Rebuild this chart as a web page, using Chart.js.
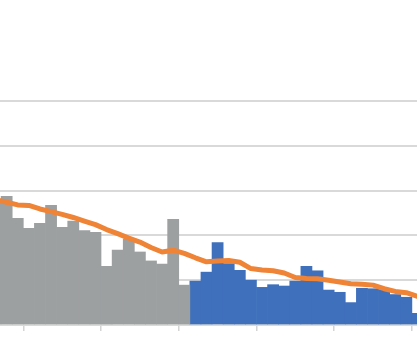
<!DOCTYPE html>
<html>
<head>
<meta charset="utf-8">
<script src="https://cdn.jsdelivr.net/npm/chart.js@4"></script>
<style>
  html, body { margin: 0; padding: 0; background: #ffffff; overflow: hidden; width: 417px; height: 340px; }
  #wrap { position: absolute; left: -10px; top: 0; width: 433px; height: 340px; }
</style>
</head>
<body>
<div id="wrap"><canvas id="c" width="433" height="340"></canvas></div>
<script>
const categories = ['1','2','3','4','5','6','7','8','9','10','11','12','13','14','15','16','17','18','19','20',
  '21','22','23','24','25','26','27','28','29','30','31','32','33','34','35','36','37','38','39'];

const grayValues = [2.78, 2.87, 2.38, 2.16, 2.27, 2.67, 2.18, 2.32, 2.11, 2.07,
  1.31, 1.67, 1.92, 1.63, 1.43, 1.36, 2.36, 0.89,
  null, null, null, null, null, null, null, null, null, null, null,
  null, null, null, null, null, null, null, null, null, null];

const blueValues = [null, null, null, null, null, null, null, null, null, null,
  null, null, null, null, null, null, null, null,
  0.98, 1.18, 1.84, 1.37, 1.22, 1.00, 0.84, 0.90, 0.87, 0.98, 1.31,
  1.21, 0.78, 0.73, 0.50, 0.82, 0.81, 0.79, 0.68, 0.62, 0.26];

const trendValues = [2.80, 2.74, 2.68, 2.67, 2.59, 2.53, 2.47, 2.40, 2.32, 2.24,
  2.13, 2.04, 1.94, 1.85, 1.73, 1.63, 1.67, 1.60, 1.50, 1.41,
  1.43, 1.44, 1.40, 1.26, 1.23, 1.21, 1.16, 1.06, 1.04, 1.03,
  1.00, 0.96, 0.92, 0.91, 0.89, 0.81, 0.75, 0.72, 0.64];

const yTicks = [0, 1, 2, 3, 4, 5];

new Chart(document.getElementById('c'), {
  data: {
    labels: categories,
    datasets: [
      {
        type: 'line',
        data: trendValues,
        borderColor: '#EF8336',
        borderWidth: 5,
        pointRadius: 0,
        tension: 0,
        fill: false,
        borderJoinStyle: 'round',
        borderCapStyle: 'round',
        order: 0
      },
      {
        type: 'bar',
        data: grayValues,
        backgroundColor: '#9DA0A1',
        borderWidth: 0,
        barPercentage: 1,
        categoryPercentage: 1,
        grouped: false,
        order: 1
      },
      {
        type: 'bar',
        data: blueValues,
        backgroundColor: '#3F70BC',
        borderWidth: 0,
        barPercentage: 1,
        categoryPercentage: 1,
        grouped: false,
        order: 1
      }
    ]
  },
  options: {
    responsive: false,
    animation: false,
    devicePixelRatio: 1,
    layout: { padding: { top: 101, left: 0, right: 0, bottom: 0 } },
    plugins: { legend: { display: false }, tooltip: { enabled: false }, title: { display: false } },
    scales: {
      x: {
        offset: true,
        ticks: { display: false, autoSkip: false },
        grid: {
          offset: true,
          drawOnChartArea: false,
          drawTicks: true,
          tickLength: 6,
          lineWidth: 1.5,
          color: (ctx) => (ctx.index !== undefined && ctx.index % 7 === 3) ? '#d4d4d4' : 'rgba(0,0,0,0)'
        },
        border: { display: true, color: '#d9d9d9', width: 2 },
        afterFit: (scale) => { scale.height = 15; }
      },
      y: {
        min: 0,
        max: 5,
        afterBuildTicks: (scale) => { scale.ticks = yTicks.map(v => ({ value: v })); },
        ticks: { display: false },
        grid: { color: '#d9d9d9', lineWidth: 2, drawTicks: false },
        border: { display: false },
        afterFit: (scale) => { scale.width = 0; }
      }
    }
  }
});
</script>
</body>
</html>
